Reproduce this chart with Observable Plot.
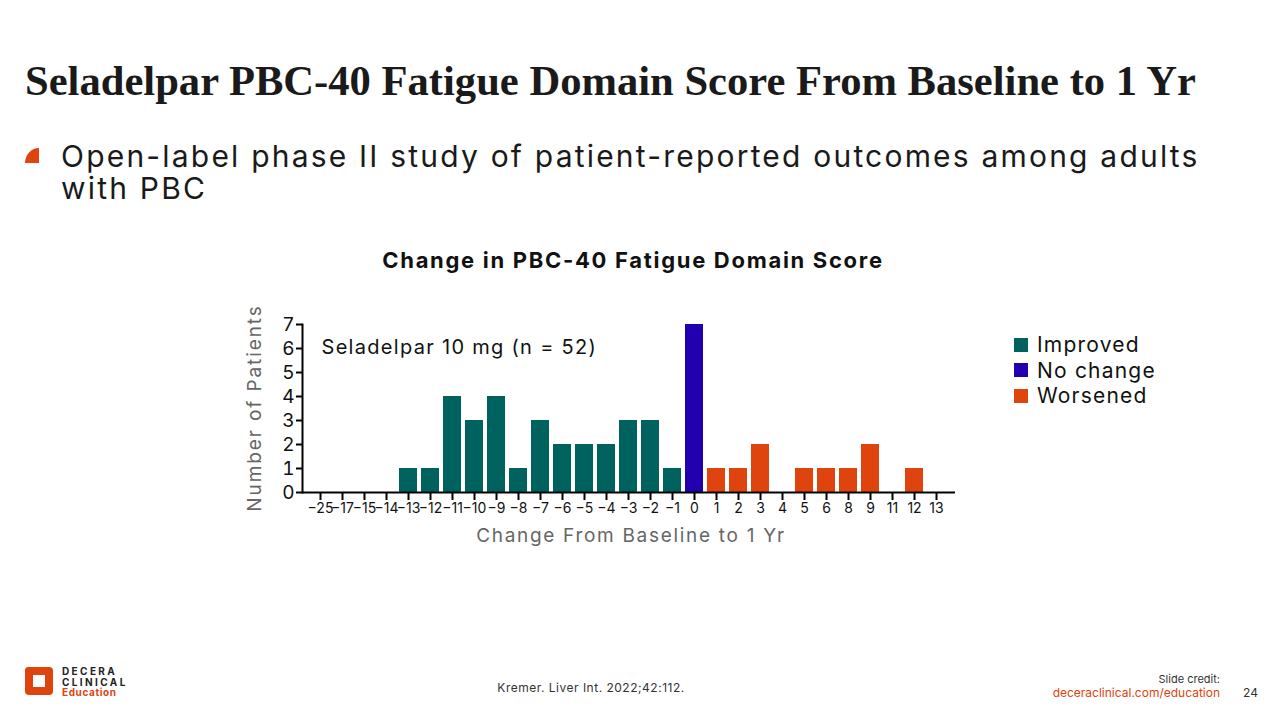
<!DOCTYPE html>
<html>
<head>
<meta charset="utf-8">
<script src="https://cdn.jsdelivr.net/npm/d3@7"></script>
<script src="https://cdn.jsdelivr.net/npm/@observablehq/plot@0.6"></script>
<style>
  html, body { margin: 0; padding: 0; background: #fff; }
  body { width: 1280px; height: 720px; position: relative; overflow: hidden; font-family: Inter, "Noto Sans", sans-serif; color: #111; }
  .abs { position: absolute; white-space: nowrap; }
  #title { left: 25px; top: 56px; font-family: "Liberation Serif", "Times New Roman", serif; font-weight: bold; font-size: 42.6px; color: #1a1a1a; }
  #bullet { left: 25px; top: 148px; width: 14px; height: 15px; background: #e0440e; border-top-left-radius: 14px 15px; }
  #sub { left: 61px; top: 140px; font-size: 30px; line-height: 32px; letter-spacing: 2.2px; color: #1a1a1a; white-space: normal; width: 1170px; }
  #ctitle { left: 633px; top: 247px; transform: translateX(-50%); font-weight: bold; font-size: 22px; letter-spacing: 1.7px; color: #111; }
  #chart { position: absolute; left: 230px; top: 310px; }
  #ylab { left: 254px; top: 408px; transform: translate(-50%, -50%) rotate(-90deg); font-size: 19px; color: #666; letter-spacing: 1.9px; }
  #xlab { left: 631px; top: 524px; transform: translateX(-50%); font-size: 19px; color: #666; letter-spacing: 1.7px; }
  #legend { left: 1014px; top: 332px; font-size: 21px; letter-spacing: 1.2px; }
  .li { display: flex; align-items: center; height: 25.5px; }
  .sw { width: 14px; height: 14px; margin-right: 9px; }
  #cite { left: 591px; top: 680px; transform: translateX(-50%); font-size: 12px; letter-spacing: 0.5px; color: #333; }
  #credit { right: 60px; top: 672px; text-align: right; font-size: 11px; color: #333; line-height: 14px; }
  #credit .u { color: #e0440e; font-size: 12px; }
  #page { left: 1243px; top: 685px; font-size: 12px; color: #333; }
  #logo { left: 25px; top: 667px; }
  #logotxt { left: 62px; top: 666px; font-size: 10px; font-weight: bold; letter-spacing: 2.4px; line-height: 10.5px; color: #222; }
  #logotxt .e { color: #e0440e; letter-spacing: 0.6px; }
</style>
</head>
<body>
<div id="title" class="abs">Seladelpar PBC-40 Fatigue Domain Score From Baseline to 1 Yr</div>
<div id="bullet" class="abs"></div>
<div id="sub" class="abs">Open-label phase II study of patient-reported outcomes among adults with PBC</div>
<div id="ctitle" class="abs">Change in PBC-40 Fatigue Domain Score</div>
<div id="chart"></div>
<div id="ylab" class="abs">Number of Patients</div>
<div id="xlab" class="abs">Change From Baseline to 1 Yr</div>
<div id="legend" class="abs"></div>
<div id="cite" class="abs">Kremer. Liver Int. 2022;42:112.</div>
<div id="credit" class="abs">Slide credit:<br><span class="u">deceraclinical.com/education</span></div>
<div id="page" class="abs">24</div>
<svg id="logo" class="abs" width="28" height="28" viewBox="0 0 28 28">
  <rect x="0" y="0" width="28" height="28" rx="4" fill="#e0440e"/>
  <rect x="8" y="8" width="12" height="12" fill="#fff"/>
  <circle cx="4" cy="4" r="4" fill="#e0440e"/>
</svg>
<div id="logotxt" class="abs">DECERA<br>CLINICAL<br><span class="e">Education</span></div>
<script>
// Data
const changes = [-25, -17, -15, -14, -13, -12, -11, -10, -9, -8, -7, -6, -5, -4, -3, -2, -1, 0, 1, 2, 3, 4, 5, 6, 8, 9, 11, 12, 13];
const patients = [0, 0, 0, 0, 1, 1, 4, 3, 4, 1, 3, 2, 2, 2, 3, 3, 1, 7, 1, 1, 2, 0, 1, 1, 1, 2, 0, 1, 0];
const groups = ["Improved", "No change", "Worsened"];
const groupColors = ["#00625f", "#2200b0", "#e0440e"];
const yTicks = [0, 1, 2, 3, 4, 5, 6, 7];
const annotation = "Seladelpar 10 mg (n = 52)";

const fmt = v => (v < 0 ? "\u2212" + Math.abs(v) : String(v));
const labels = changes.map(fmt);
const rows = changes.map((c, i) => ({
  label: labels[i],
  n: patients[i],
  group: c < 0 ? groups[0] : c === 0 ? groups[1] : groups[2]
}));

const chart = Plot.plot({
  width: 740,
  height: 230,
  marginLeft: 72,
  marginRight: 15,
  marginTop: 14,
  marginBottom: 48,
  style: { fontFamily: "Inter, 'Noto Sans', sans-serif", color: "#111", background: "transparent" },
  x: { type: "band", domain: labels, paddingInner: 0.18, paddingOuter: 0.4, label: null },
  y: { domain: [0, 7], label: null },
  color: { domain: groups, range: groupColors },
  marks: [
    Plot.barY(rows, { x: "label", y: "n", fill: "group" }),
    Plot.axisY({ ticks: yTicks, tickSize: 6, tickPadding: 2, fontSize: 19, stroke: "#000", strokeWidth: 2, label: null, tickFormat: d => String(d) }),
    Plot.axisX({ tickSize: 8, tickPadding: 3, fontSize: 14, stroke: "#000", strokeWidth: 2, label: null }),
    Plot.frame({ anchor: "left", stroke: "#000", strokeWidth: 2 }),
    Plot.ruleY([0], { stroke: "#000", strokeWidth: 2 }),
    Plot.text([annotation], { frameAnchor: "top-left", dx: 19, dy: 15, text: d => d, fontSize: 20, fill: "#111", textAnchor: "start" })
  ]
});
d3.select(chart).selectAll("text").filter(function () { return this.textContent === annotation; }).attr("letter-spacing", "1.3px");
document.getElementById("chart").appendChild(chart);

const legend = document.getElementById("legend");
groups.forEach((g, i) => {
  const row = document.createElement("div");
  row.className = "li";
  const sw = document.createElement("div");
  sw.className = "sw";
  sw.style.background = groupColors[i];
  row.appendChild(sw);
  const t = document.createElement("span");
  t.textContent = g;
  row.appendChild(t);
  legend.appendChild(row);
});
</script>
</body>
</html>
